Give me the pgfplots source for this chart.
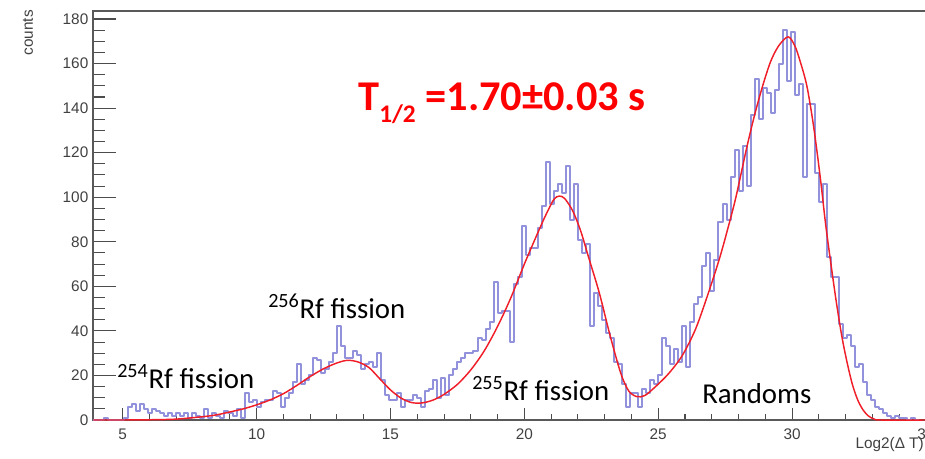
\documentclass[border=0pt]{standalone}
\usepackage{fontspec}
\setmainfont{Liberation Sans}
\newfontfamily\calib{Carlito}
\usepackage{pgfplots}
\pgfplotsset{compat=1.18}
\definecolor{histblue}{RGB}{145,145,220}
\definecolor{fitred}{RGB}{240,30,40}
\begin{document}
\begin{tikzpicture}
\begin{axis}[
  scale only axis, width=624.75pt, height=306.75pt,
  xmin=3.89, xmax=35, ymin=0, ymax=183.6,
  axis line style={line width=1.3pt, black!65},
  tick align=inside,
  xtick pos=bottom, ytick pos=left,
  xtick={5,10,15,20,25,30,35},
  ytick={0,20,40,60,80,100,120,140,160,180},
  minor x tick num=4, minor y tick num=3,
  xtick style={/pgfplots/major tick length=9pt, /pgfplots/minor tick length=4.5pt, line width=0.8pt, black!70},
  ytick style={/pgfplots/major tick length=17pt, /pgfplots/minor tick length=9pt, line width=0.8pt, black!70},
  ticklabel style={font=\fontsize{11.5}{13}\selectfont, text=black!75},
  /pgf/number format/assume math mode=true,
  xticklabel shift=3pt,
]
\addplot[const plot mark left, histblue, line width=1.5pt, line join=round] coordinates {
(3.85,0) (4.00,0) (4.15,0) (4.30,1) (4.45,0) (4.60,0) (4.75,0) (4.90,0)
(5.05,1) (5.20,6) (5.35,7) (5.50,4) (5.65,7) (5.80,5) (5.95,3) (6.10,5)
(6.25,4) (6.40,3) (6.55,2) (6.70,3) (6.85,2) (7.00,3) (7.15,2) (7.30,3)
(7.45,1) (7.60,3) (7.75,2) (7.90,1) (8.05,5) (8.20,1) (8.35,3) (8.50,2)
(8.65,1) (8.80,4) (8.95,3) (9.10,2) (9.25,5) (9.40,1) (9.55,12) (9.70,8)
(9.85,9)
(10.00,6) (10.15,8) (10.30,9) (10.45,9) (10.60,13) (10.75,12) (10.90,6) (11.05,10)
(11.20,12) (11.35,17) (11.50,25) (11.65,16) (11.80,18) (11.95,20) (12.10,28) (12.25,27)
(12.40,21) (12.55,23) (12.70,26) (12.85,30) (13.00,42) (13.15,33) (13.30,28) (13.45,28)
(13.60,31) (13.75,29) (13.90,23) (14.05,25) (14.20,26) (14.35,24) (14.50,30) (14.65,18)
(14.80,11) (14.95,9) (15.10,9) (15.25,12) (15.40,6) (15.55,9) (15.70,9) (15.85,11)
(16.00,10) (16.15,6) (16.30,13) (16.45,14) (16.60,18) (16.75,10) (16.90,19) (17.05,11)
(17.20,20) (17.35,23) (17.50,26) (17.65,28) (17.80,30) (17.95,30) (18.10,31) (18.25,37)
(18.40,36) (18.55,41) (18.70,44) (18.85,62) (19.00,48) (19.15,49) (19.30,49) (19.45,35)
(19.60,61) (19.75,64) (19.90,87) (20.05,74) (20.20,77) (20.35,77) (20.50,86) (20.65,96)
(20.80,116) (20.95,97) (21.10,103) (21.25,106) (21.40,102) (21.55,114) (21.70,90) (21.85,106)
(22.00,81) (22.15,75) (22.30,79) (22.45,42) (22.60,57) (22.75,51) (22.90,45) (23.05,39)
(23.20,37) (23.35,26) (23.50,25) (23.65,16) (23.80,6) (23.95,12) (24.10,12) (24.25,6)
(24.40,14) (24.55,12) (24.70,18) (24.85,16) (25.00,20) (25.15,37) (25.30,33) (25.45,25)
(25.60,32) (25.75,26) (25.90,42) (26.05,24) (26.20,44) (26.35,52) (26.50,55) (26.65,69)
(26.80,75) (26.95,58) (27.10,72) (27.25,89) (27.40,97) (27.55,90) (27.70,109) (27.85,121)
(28.00,103) (28.15,123) (28.30,105) (28.45,137) (28.60,153) (28.75,135) (28.90,149) (29.05,147)
(29.20,138) (29.35,148) (29.50,160) (29.65,175) (29.80,152) (29.95,174) (30.10,146) (30.25,151)
(30.40,109) (30.55,142) (30.70,142) (30.85,111) (31.00,98) (31.15,106) (31.30,73) (31.45,64)
(31.60,64) (31.75,43) (31.90,37) (32.05,38) (32.20,33) (32.35,24) (32.50,25) (32.65,17)
(32.80,11) (32.95,9) (33.10,6) (33.25,5) (33.40,3) (33.55,2) (33.70,1) (33.85,2)
(34.00,1) (34.15,1) (34.30,0) (34.45,1) (34.60,0) (34.75,0)
};
\addplot[smooth, fitred, line width=1.1pt] coordinates {
(3.9,0) (5,0) (6,0.1) (7,0.4) (8,1.5) (8.5,2.3) (9,3.6) (9.5,5) (10,6.8)
(10.5,9) (11,11.8) (11.5,15.5) (12,19.5) (12.5,23) (13,25.6) (13.4,26.8)
(13.8,26) (14.2,23.5) (14.6,18.5) (15,13.5) (15.4,9.8) (15.8,7.8) (16.2,7.7)
(16.6,9) (17,11.5) (17.5,16) (18,22.5) (18.5,31) (19,42) (19.5,55) (20,70)
(20.5,84) (20.8,92) (21.1,99) (21.3,100.5) (21.5,99.5) (21.8,94) (22.1,85)
(22.4,73) (22.8,57) (23.2,38) (23.6,21) (23.9,13) (24.2,10.5) (24.5,11)
(24.9,15) (25.4,21) (25.9,29) (26.4,41) (26.9,58) (27.3,73) (27.6,86)
(27.9,100) (28.3,122) (28.6,137) (28.9,150) (29.2,161) (29.5,168) (29.85,172)
(30.1,168) (30.3,161) (30.55,150) (30.8,132) (31.05,109) (31.25,88) (31.45,70)
(31.65,53) (31.85,38) (32.05,26) (32.25,16) (32.45,9) (32.65,4.5) (32.85,1.8)
(33.05,0.5) (33.3,0) (35,0)
};
\end{axis}
\node[anchor=base west, inner sep=0, font=\calib\fontsize{21.6}{25}\selectfont] at (18pt,24pt) {\textsuperscript{254}Rf fission};
\node[anchor=base west, inner sep=0, font=\calib\fontsize{21.6}{25}\selectfont] at (131.25pt,76.5pt) {\textsuperscript{256}Rf fission};
\node[anchor=base west, inner sep=0, font=\calib\fontsize{21.6}{25}\selectfont] at (284.25pt,15pt) {\textsuperscript{255}Rf fission};
\node[anchor=base west, inner sep=0, font=\calib\fontsize{21.6}{25}\selectfont] at (456.75pt,12.75pt) {Randoms};
\node[anchor=base west, inner sep=0, text=red, font=\calib\bfseries\fontsize{31.8}{38}\selectfont] at (198.75pt,232.5pt) {T\raisebox{-9.5pt}{\fontsize{19}{21}\selectfont 1/2} =1.70±0.03 s};
\node[rotate=90, anchor=east, inner sep=0, font=\fontsize{11.5}{13}\selectfont, text=black!75] at (-48.75pt,307.5pt) {counts};
\node[anchor=base east, inner sep=0, font=\fontsize{11.5}{13}\selectfont, text=black!75] at (623.25pt,-21pt) {Log2(Δ T)};
\pgfresetboundingbox
\useasboundingbox (-69.75pt,-28.5pt) rectangle (624pt,315pt);
\end{tikzpicture}
\end{document}
